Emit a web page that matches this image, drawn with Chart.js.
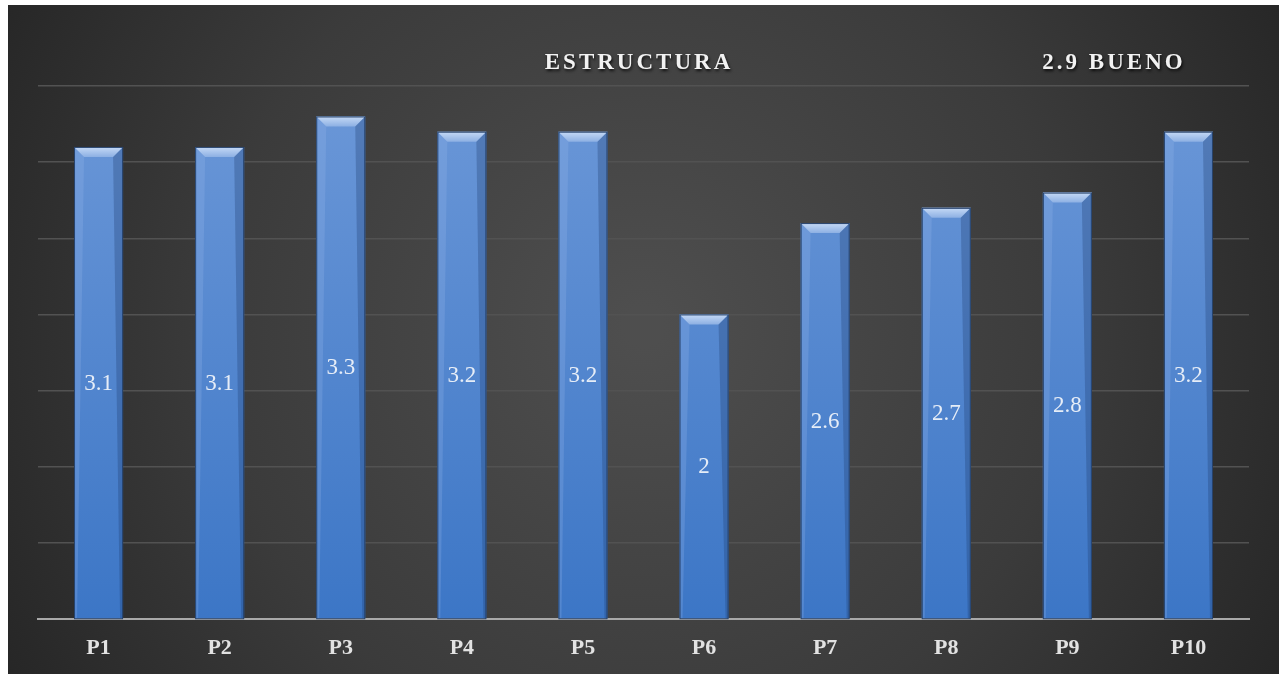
<!DOCTYPE html>
<html>
<head>
<meta charset="utf-8">
<script src="https://cdn.jsdelivr.net/npm/chart.js@4"></script>
<style>
	html, body { margin: 0; padding: 0; background: #ffffff; }
	#wrap { position: absolute; left: 8px; top: 5px; width: 1271px; height: 669px; }
</style>
</head>
<body>
<div id="wrap"><canvas id="chart" width="1271" height="669"></canvas></div>
<script>
// chart data
var labels = ['P1', 'P2', 'P3', 'P4', 'P5', 'P6', 'P7', 'P8', 'P9', 'P10'];
var values = [3.1, 3.1, 3.3, 3.2, 3.2, 2, 2.6, 2.7, 2.8, 3.2];
var titleText = 'ESTRUCTURA';
var scoreText = '2.9 BUENO';

const background = {
	id: 'background',
	beforeDraw(chart) {
		const {ctx, width, height} = chart;
		ctx.save();
		var g = ctx.createRadialGradient(width * 0.5, height * 0.48, 20, width * 0.5, height * 0.48, 760);
		g.addColorStop(0, '#4e4e4e');
		g.addColorStop(0.55, '#3b3b3b');
		g.addColorStop(1, '#242424');
		ctx.fillStyle = g;
		ctx.fillRect(0, 0, width, height);
		ctx.restore();
	}
};

const barBevel = {
	id: 'barBevel',
	afterDatasetsDraw(chart) {
		const ctx = chart.ctx;
		const meta = chart.getDatasetMeta(0);
		meta.data.forEach((bar, i) => {
			var w = bar.width, l = bar.x - w / 2, r = bar.x + w / 2, t = bar.y, b = bar.base;
			var bv = 10;
			ctx.save();
			// top cap
			var g = ctx.createLinearGradient(0, t, 0, t + bv);
			g.addColorStop(0, '#c6daf6');
			g.addColorStop(1, '#8db0e3');
			ctx.fillStyle = g;
			ctx.beginPath();
			ctx.moveTo(l, t);
			ctx.lineTo(r, t);
			ctx.lineTo(r - bv, t + bv);
			ctx.lineTo(l + bv, t + bv);
			ctx.closePath();
			ctx.fill();
			// side strips
			ctx.fillStyle = 'rgba(150,185,235,0.25)';
			ctx.beginPath();
			ctx.moveTo(l, t);
			ctx.lineTo(l + bv, t + bv);
			ctx.lineTo(l + 3, b);
			ctx.lineTo(l, b);
			ctx.closePath();
			ctx.fill();
			ctx.fillStyle = 'rgba(30,60,110,0.3)';
			ctx.beginPath();
			ctx.moveTo(r, t);
			ctx.lineTo(r - bv, t + bv);
			ctx.lineTo(r - 3, b);
			ctx.lineTo(r, b);
			ctx.closePath();
			ctx.fill();
			// edges
			ctx.strokeStyle = '#26426b';
			ctx.lineWidth = 1;
			ctx.strokeRect(l + 0.5, t + 0.5, w - 1, b - t);
			// value label
			ctx.font = '23px "Liberation Serif", serif';
			ctx.fillStyle = '#e6edf7';
			ctx.textAlign = 'center';
			ctx.textBaseline = 'middle';
			ctx.fillText(String(values[i]), bar.x, (t + b) / 2 + 1);
			ctx.restore();
		});
	}
};

const headerText = {
	id: 'headerText',
	afterDraw(chart) {
		const ctx = chart.ctx;
		ctx.save();
		ctx.font = 'bold 23px "Liberation Serif", serif';
		ctx.letterSpacing = '3px';
		ctx.textAlign = 'center';
		ctx.textBaseline = 'middle';
		ctx.shadowColor = 'rgba(0,0,0,0.8)';
		ctx.shadowOffsetX = 1;
		ctx.shadowOffsetY = 2;
		ctx.shadowBlur = 3;
		ctx.fillStyle = '#f2f2f2';
		ctx.fillText(titleText, 631, 58);
		ctx.fillText(scoreText, 1106, 58);
		ctx.restore();
	}
};

var ctx = document.getElementById('chart').getContext('2d');
var barGrad = ctx.createLinearGradient(0, 80, 0, 614);
barGrad.addColorStop(0, '#6c98d8');
barGrad.addColorStop(1, '#3c76c6');

var chart = new Chart(ctx, {
	type: 'bar',
	data: {
		labels: labels,
		datasets: [{
			data: values,
			backgroundColor: barGrad,
			borderWidth: 0,
			barPercentage: 0.405,
			categoryPercentage: 1
		}]
	},
	options: {
		responsive: false,
		animation: false,
		layout: {
			padding: {left: 30, right: 30, top: 81, bottom: 0}
		},
		scales: {
			x: {
				grid: {display: false, drawTicks: false},
				border: {color: '#a9a9a9', width: 2},
				ticks: {
					color: '#e2e2e2',
					padding: 16,
					font: {family: '"Liberation Serif", serif', size: 22, weight: 'bold'}
				},
				afterFit: function(scale) { scale.height = 55; }
			},
			y: {
				min: 0,
				max: 3.5,
				ticks: {display: false, stepSize: 0.5},
				grid: {color: '#525252', lineWidth: 1.5, drawTicks: false},
				border: {display: false}
			}
		},
		plugins: {
			legend: {display: false},
			tooltip: {enabled: false}
		}
	},
	plugins: [background, barBevel, headerText]
});
</script>
</body>
</html>
